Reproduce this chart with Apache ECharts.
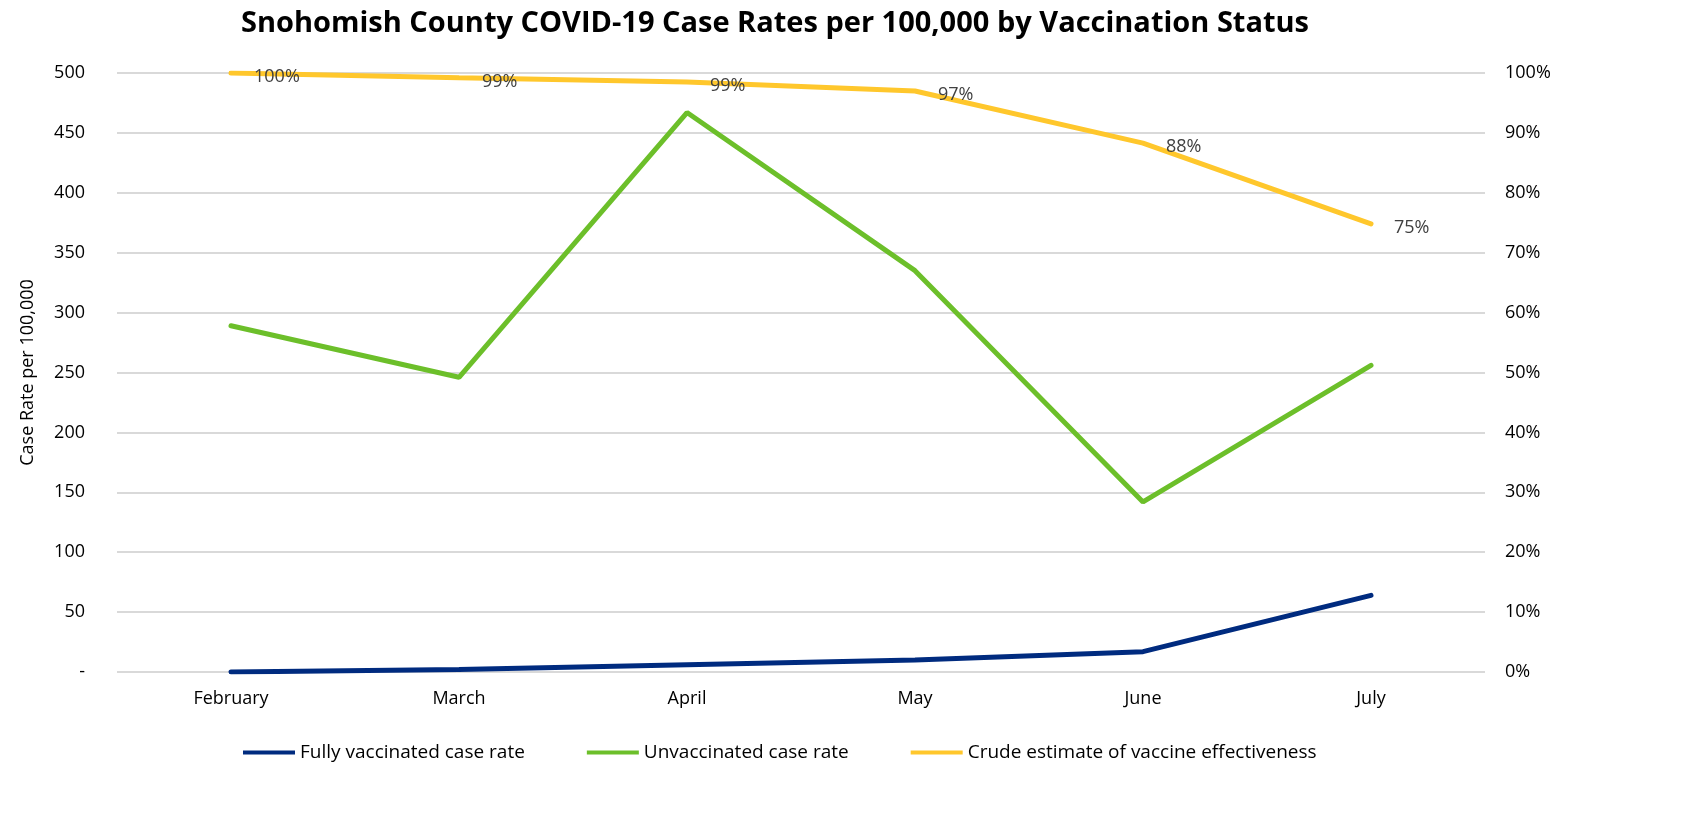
<!DOCTYPE html>
<html><head><meta charset="utf-8">
<script src="https://cdn.jsdelivr.net/npm/echarts@6/dist/echarts.min.js"></script>
<style>html,body{margin:0;padding:0;background:#fff}#c{width:1682px;height:817px}</style>
</head><body><div id="c"></div>
<script>
const months = ['February','March','April','May','June','July'];
const fullyVaccinated = [0, 2, 6, 10, 17, 64];
const unvaccinated = [289, 246, 467, 335, 142, 256];
const effectiveness = [1.00, 0.992, 0.985, 0.97, 0.883, 0.748];
const leftTicks = {min:0, max:500, interval:50};
const rightTicks = {min:0, max:1, interval:0.1};

const FONT = '"Open Sans", "Noto Sans", sans-serif';
const chart = echarts.init(document.getElementById('c'));
chart.setOption({
  animation:false,
  textStyle:{fontFamily:FONT},
  title:{text:'Snohomish County COVID-19 Case Rates per 100,000 by Vaccination Status',left:236,top:4,
    textStyle:{fontFamily:FONT,fontWeight:'bold',fontSize:29,color:'#000'}},
  grid:{left:117,right:197,top:73,bottom:145},
  legend:{bottom:50,left:238,itemWidth:52,itemHeight:4,itemGap:62,
    icon:'rect',textStyle:{fontFamily:FONT,fontSize:19,color:'#000'},
    data:['Fully vaccinated case rate','Unvaccinated case rate','Crude estimate of vaccine effectiveness']},
  xAxis:{type:'category',data:months,boundaryGap:true,
    axisLine:{show:false},axisTick:{show:false},
    axisLabel:{fontSize:18,color:'#000',margin:18}},
  yAxis:[
    {type:'value',min:leftTicks.min,max:leftTicks.max,interval:leftTicks.interval,
     name:'Case Rate per 100,000',nameLocation:'middle',nameGap:80,nameRotate:90,
     nameTextStyle:{fontSize:18,color:'#000'},
     axisLine:{show:false},axisTick:{show:false},
     axisLabel:{fontSize:18,color:'#000',margin:32,formatter:v=>v===0?'-':String(v)},
     splitLine:{lineStyle:{color:'#d9d9d9',width:2}}},
    {type:'value',min:rightTicks.min,max:rightTicks.max,interval:rightTicks.interval,
     axisLine:{show:false},axisTick:{show:false},
     axisLabel:{fontSize:18,color:'#000',margin:20,align:'left',formatter:v=>Math.round(v*100)+'%'},
     splitLine:{show:false}}
  ],
  series:[
    {name:'Fully vaccinated case rate',type:'line',data:fullyVaccinated,yAxisIndex:0,
     symbol:'none',lineStyle:{width:5,color:'#002b7f',cap:'round'},itemStyle:{color:'#002b7f'}},
    {name:'Unvaccinated case rate',type:'line',data:unvaccinated,yAxisIndex:0,
     symbol:'none',lineStyle:{width:5,color:'#6cbf2a',cap:'round'},itemStyle:{color:'#6cbf2a'}},
    {name:'Crude estimate of vaccine effectiveness',type:'line',data:effectiveness,yAxisIndex:1,
     symbol:'circle',symbolSize:2,showSymbol:true,
     lineStyle:{width:5,color:'#ffc72c',cap:'round'},itemStyle:{color:'#ffc72c'},
     label:{show:true,position:'right',distance:22,offset:[0,4],fontSize:18,color:'#404040',
       formatter:p=>Math.round(p.value*100)+'%'}}
  ]
});
</script></body></html>
